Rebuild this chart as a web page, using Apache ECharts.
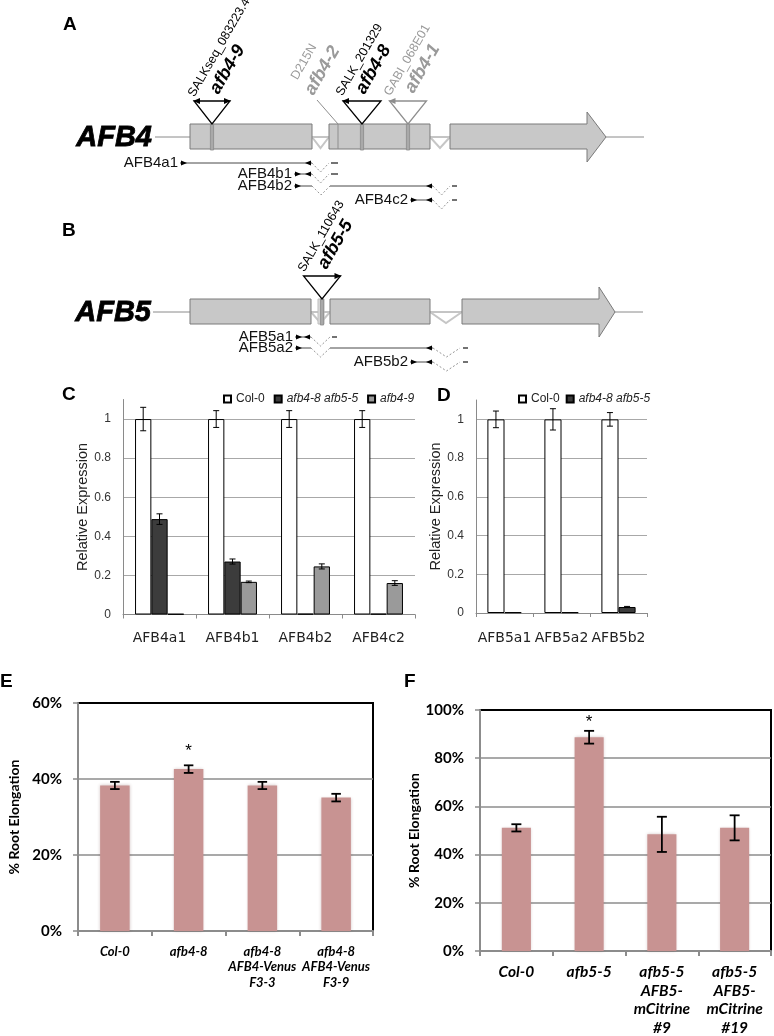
<!DOCTYPE html>
<html><head><meta charset="utf-8">
<script src="https://cdn.jsdelivr.net/npm/echarts@6/dist/echarts.min.js"></script>
<style>html,body{margin:0;padding:0;background:#fff;}#c{width:774px;height:1036px;}</style>
</head><body><div id="c"></div>
<script>
// ================= DATA =================
// Panel C: relative expression of AFB4 amplicons
const catC = ['AFB4a1', 'AFB4b1', 'AFB4b2', 'AFB4c2'];
const col0C = [1, 1, 1, 1];
const col0CErr = [0.06, 0.043, 0.043, 0.043];
const dblC = [0.488, 0.271, 0.004, 0.004];
const dblCErr = [0.027, 0.013, 0, 0];
const afb49C = [0.003, 0.167, 0.246, 0.161];
const afb49CErr = [0, 0.004, 0.013, 0.012];
// Panel D: relative expression of AFB5 amplicons
const catD = ['AFB5a1', 'AFB5a2', 'AFB5b2'];
const col0D = [1, 1, 1];
const col0DErr = [0.043, 0.055, 0.035];
const dblD = [0.004, 0.004, 0.031];
const dblDErr = [0, 0, 0.003];
// Panel E: % root elongation
const catE = ['Col-0', 'afb4-8', 'afb4-8\nAFB4-Venus\nF3-3', 'afb4-8\nAFB4-Venus\nF3-9'];
const valE = [38.3, 42.6, 38.3, 35.1];
const errE = [0.95, 1.0, 0.95, 1.0];
const sigE = [0, 1, 0, 0];
// Panel F: % root elongation
const catF = ['Col-0', 'afb5-5', 'afb5-5\nAFB5-\nmCitrine\n#9', 'afb5-5\nAFB5-\nmCitrine\n#19'];
const valF = [51.1, 88.7, 48.4, 51.1];
const errF = [1.5, 2.65, 7.3, 5.2];
const sigF = [0, 1, 0, 0];
// Tick settings
const yTicksCD = [0, 1.1, 0.2];   // min, max, step
const yTicksE = [0, 60, 20];
const yTicksF = [0, 100, 20];

// Gene schematics (schematic units along the gene)
const AFB4_LINE = [5, 494];
const AFB4_EXONS = [[40, 162], [179, 280]];
const AFB4_LAST = [300, 437, 456];
const AFB4_INTRONS = [[162, 179], [280, 300]];
const AFB4_SMALL = [];
const AFB4_INS = [
  {x: 62, hw: 18, arrow: 'both', gray: 0},
  {x: 212, hw: 19, arrow: 'left', gray: 0},
  {x: 258, hw: 18.5, arrow: 'left', gray: 1}
];
const AFB4_POINT = [{x: 188, from: [167, 5], gray: 1}];
const AFB4_LABELS = [
  {t: 'SALKseq_083223.4', x: 47, y: 4, bold: 0, gray: 0},
  {t: 'afb4-9', x: 72, y: 2, bold: 1, gray: 0},
  {t: 'D215N', x: 150, y: -13, bold: 0, gray: 1},
  {t: 'afb4-2', x: 167, y: 3, bold: 1, gray: 1},
  {t: 'SALK_201329', x: 195, y: 3, bold: 0, gray: 0},
  {t: 'afb4-8', x: 218, y: 2, bold: 1, gray: 0},
  {t: 'GABI_068E01', x: 243, y: 3, bold: 0, gray: 1},
  {t: 'afb4-1', x: 267, y: 1, bold: 1, gray: 1}
];
const AFB4_PRIMERS = [
  {label: 'AFB4a1', row: 68, end: 28, parts: [['line', 30, 162], ['fwd', 30], ['rev', 162], ['dashV', 162, 179], ['dash', 181, 188]]},
  {label: 'AFB4b1', row: 79, end: 142, parts: [['line', 144, 162], ['fwd', 144], ['rev', 162], ['dashV', 162, 179], ['dash', 181, 188]]},
  {label: 'AFB4b2', row: 91, end: 142, parts: [['line', 144, 162], ['fwd', 144], ['dashV', 162, 180], ['line', 180, 283], ['rev', 283], ['dashV', 283, 300], ['dash', 302, 307]]},
  {label: 'AFB4c2', row: 105, end: 258, parts: [['line', 260, 283], ['fwd', 260], ['rev', 283], ['dashV', 283, 300], ['dash', 302, 307]]}
];

const AFB5_LINE = [3, 493];
const AFB5_EXONS = [[40, 161], [180, 280]];
const AFB5_LAST = [312, 449, 465];
const AFB5_INTRONS = [[161, 180], [280, 312]];
const AFB5_SMALL = [[168, 174]];
const AFB5_INS = [{x: 172, hw: 18.5, arrow: 'right', gray: 0}];
const AFB5_POINT = [];
const AFB5_LABELS = [
  {t: 'SALK_110643', x: 157, y: 4, bold: 0, gray: 0},
  {t: 'afb5-5', x: 180, y: 2, bold: 1, gray: 0}
];
const AFB5_PRIMERS = [
  {label: 'AFB5a1', row: 67, end: 143, parts: [['line', 145, 161], ['fwd', 145], ['rev', 161], ['dashV', 161, 180], ['dash', 182, 187]]},
  {label: 'AFB5a2', row: 78, end: 143, parts: [['line', 145, 161], ['fwd', 145], ['dashV', 161, 180], ['line', 180, 283], ['rev', 283], ['dashV', 283, 310], ['dash', 313, 318]]},
  {label: 'AFB5b2', row: 92, end: 258, parts: [['line', 260, 283], ['fwd', 260], ['rev', 283], ['dashV', 283, 310], ['dash', 313, 318]]}
];

// ================= LAYOUT / STYLE =================
const ROW = {triTop: 6, boxTop: 29, mid: 42, boxBot: 54, vDepth: 11};
const FONT = '"Liberation Sans", Arial, sans-serif';

function geneRender(g) {
  return function (params, api) {
    const c = (x, y) => api.coord([x, y]);
    const ch = [];
    const L = (a, b, st) => ({type: 'line', shape: {x1: a[0], y1: a[1], x2: b[0], y2: b[1]}, style: st});
    ch.push(L(c(g.line[0], ROW.mid), c(g.line[1], ROW.mid), {stroke: '#8a8a8a', lineWidth: 1}));
    g.introns.forEach(([a, b]) => {
      ch.push({type: 'polyline', shape: {points: [c(a, ROW.mid), c((a + b) / 2, ROW.mid + ROW.vDepth), c(b, ROW.mid)]},
        style: {stroke: '#c6c6c6', lineWidth: 2, fill: null}});
    });
    g.exons.forEach(([a, b]) => {
      const p = c(a, ROW.boxTop), q = c(b, ROW.boxBot);
      ch.push({type: 'rect', shape: {x: p[0], y: p[1], width: q[0] - p[0], height: q[1] - p[1]},
        style: {fill: '#c8c8c8', stroke: '#7a7a7a', lineWidth: 1}});
    });
    g.small.forEach(([a, b]) => {
      const p = c(a, ROW.boxTop), q = c(b, ROW.boxBot);
      ch.push({type: 'rect', shape: {x: p[0], y: p[1], width: q[0] - p[0], height: q[1] - p[1]},
        style: {fill: '#dcdcdc', stroke: '#bdbdbd', lineWidth: 1}});
    });
    const [s, h, tip] = g.last;
    const half = 25;
    ch.push({type: 'polygon', shape: {points: [c(s, ROW.boxTop), c(h, ROW.boxTop), c(h, ROW.mid - half), c(tip, ROW.mid),
      c(h, ROW.mid + half), c(h, ROW.boxBot), c(s, ROW.boxBot)]}, style: {fill: '#c8c8c8', stroke: '#7a7a7a', lineWidth: 1}});
    g.point.forEach(pm => {
      const col = pm.gray ? '#8e8e8e' : '#000';
      ch.push({type: 'polyline', shape: {points: [c(pm.from[0], pm.from[1]), c(pm.x, ROW.boxTop), c(pm.x, ROW.boxBot)]},
        style: {stroke: col, lineWidth: 1, fill: null}});
    });
    g.ins.forEach(ins => {
      const col = ins.gray ? '#8e8e8e' : '#000';
      const p = c(ins.x - 1.6, ROW.boxTop), q = c(ins.x + 1.6, ROW.boxBot + 1);
      ch.push({type: 'rect', shape: {x: p[0], y: p[1], width: q[0] - p[0], height: q[1] - p[1]},
        style: {fill: '#a9a9a9', stroke: '#8a8a8a', lineWidth: 0.8}});
      const A = c(ins.x - ins.hw, ROW.triTop), B = c(ins.x + ins.hw, ROW.triTop), C = c(ins.x, ROW.boxTop);
      ch.push({type: 'polygon', shape: {points: [A, B, C]}, style: {fill: '#fff', stroke: col, lineWidth: 1.3}});
      if (ins.arrow === 'left' || ins.arrow === 'both')
        ch.push({type: 'polygon', shape: {points: [[A[0] - 1, A[1]], [A[0] + 6, A[1] - 3], [A[0] + 6, A[1] + 3]]}, style: {fill: col}});
      if (ins.arrow === 'right' || ins.arrow === 'both')
        ch.push({type: 'polygon', shape: {points: [[B[0] + 1, B[1]], [B[0] - 6, B[1] - 3], [B[0] - 6, B[1] + 3]]}, style: {fill: col}});
    });
    g.labels.forEach(lb => {
      const p = c(lb.x, lb.y);
      ch.push({type: 'text', x: p[0], y: p[1], rotation: Math.PI / 3,
        style: {text: lb.t, fill: lb.gray ? '#9a9a9a' : '#000',
          font: lb.bold ? 'italic bold 18px ' + FONT : '12.5px ' + FONT, align: 'left', verticalAlign: 'bottom'}});
    });
    const gp = c(g.nameX, ROW.mid);
    ch.push({type: 'text', x: gp[0], y: gp[1] + 1, style: {text: g.name, fill: '#000', font: 'italic bold 29px ' + FONT,
      align: 'right', verticalAlign: 'middle', stroke: '#000', lineWidth: 0.8}});
    g.primers.forEach(pr => {
      const y = pr.row;
      const lp = c(pr.end, y);
      ch.push({type: 'text', x: lp[0], y: lp[1], style: {text: pr.label, fill: '#111', font: '15px ' + FONT, align: 'right', verticalAlign: 'middle'}});
      pr.parts.forEach(pt => {
        const k = pt[0];
        if (k === 'line') ch.push(L(c(pt[1], y), c(pt[2], y), {stroke: '#333', lineWidth: 0.9}));
        else if (k === 'fwd') { const a = c(pt[1], y); ch.push({type: 'polygon', shape: {points: [[a[0] + 7, a[1]], [a[0] + 1, a[1] - 2.6], [a[0] + 1, a[1] + 2.6]]}, style: {fill: '#000'}}); }
        else if (k === 'rev') { const a = c(pt[1], y); ch.push({type: 'polygon', shape: {points: [[a[0] - 7, a[1]], [a[0] - 1, a[1] - 2.6], [a[0] - 1, a[1] + 2.6]]}, style: {fill: '#000'}}); }
        else if (k === 'dashV') ch.push({type: 'polyline', shape: {points: [c(pt[1], y), c((pt[1] + pt[2]) / 2, y + 9), c(pt[2], y)]},
          style: {stroke: '#8a8a8a', lineWidth: 0.9, lineDash: [2, 2], fill: null}});
        else if (k === 'dash') ch.push(L(c(pt[1], y), c(pt[2], y), {stroke: '#000', lineWidth: 1.1}));
      });
    });
    return {type: 'group', children: ch};
  };
}

const GENE4 = {name: 'AFB4', nameX: 2, line: AFB4_LINE, exons: AFB4_EXONS, last: AFB4_LAST, introns: AFB4_INTRONS, small: AFB4_SMALL,
  ins: AFB4_INS, point: AFB4_POINT, labels: AFB4_LABELS, primers: AFB4_PRIMERS};
const GENE5 = {name: 'AFB5', nameX: 1, line: AFB5_LINE, exons: AFB5_EXONS, last: AFB5_LAST, introns: AFB5_INTRONS, small: AFB5_SMALL,
  ins: AFB5_INS, point: AFB5_POINT, labels: AFB5_LABELS, primers: AFB5_PRIMERS};

function errRender(n, k, gap, capW, lw, starOff) {
  return function (params, api) {
    const x = api.value(0), v = api.value(1), e = api.value(2), sig = api.value(3);
    const band = api.size([1, 0])[0];
    const bw = band * (1 - gap) / n;
    const off = (k - (n - 1) / 2) * bw;
    const top = api.coord([x, v + e]), bot = api.coord([x, v - e]);
    const cx = top[0] + off;
    const st = {stroke: '#000', lineWidth: lw};
    const ch = [];
    if (e > 0) {
      ch.push({type: 'line', shape: {x1: cx, y1: top[1], x2: cx, y2: bot[1]}, style: st});
      ch.push({type: 'line', shape: {x1: cx - capW / 2, y1: top[1], x2: cx + capW / 2, y2: top[1]}, style: st});
      ch.push({type: 'line', shape: {x1: cx - capW / 2, y1: bot[1], x2: cx + capW / 2, y2: bot[1]}, style: st});
    }
    if (sig) ch.push({type: 'text', x: cx, y: top[1] - starOff, style: {text: '*', fill: '#000', font: '17px ' + FONT, align: 'center', verticalAlign: 'middle'}});
    return {type: 'group', children: ch};
  };
}
const errData = (vals, errs, sig) => vals.map((v, i) => [i, v, errs[i], sig ? sig[i] : 0]);

const axisGray = '#8a8a8a';
function relAxisX(gi, data, margin) {
  return {type: 'category', gridIndex: gi, data: data, axisLine: {lineStyle: {color: axisGray, width: 1}},
    axisTick: {show: true, length: 4, lineStyle: {color: axisGray}},
    axisLabel: {fontFamily: 'DejaVu Sans', fontSize: 14, color: '#222', margin: margin, interval: 0}};
}
function relAxisY(gi, gap) {
  return {type: 'value', gridIndex: gi, min: yTicksCD[0], max: yTicksCD[1], interval: yTicksCD[2],
    axisLine: {show: true, lineStyle: {color: axisGray}}, axisTick: {show: false},
    axisLabel: {fontFamily: FONT, fontSize: 12, color: '#333', margin: 12, showMaxLabel: false},
    splitLine: {show: true, showMaxLine: false, lineStyle: {color: '#a8a8a8', width: 1}},
    name: 'Relative Expression', nameLocation: 'middle', nameGap: gap, nameRotate: 90,
    nameTextStyle: {fontFamily: FONT, fontSize: 14.5, color: '#222'}};
}
function rootAxisX(gi, data, fs, lh, margin) {
  return {type: 'category', gridIndex: gi, data: data, axisLine: {lineStyle: {color: '#8c8c8c', width: 2}},
    axisTick: {show: true, length: 5, lineStyle: {color: '#8c8c8c', width: 2}},
    axisLabel: {fontFamily: 'Lato', fontWeight: 'bold', fontStyle: 'italic', fontSize: fs, lineHeight: lh, color: '#000', margin: margin, interval: 0}};
}
function rootAxisY(gi, t, gap) {
  return {type: 'value', gridIndex: gi, min: t[0], max: t[1], interval: t[2],
    axisLine: {show: true, lineStyle: {color: '#8c8c8c', width: 2}},
    axisTick: {show: true, length: 5, lineStyle: {color: '#8c8c8c', width: 1.5}},
    axisLabel: {formatter: '{value}%', fontFamily: 'Lato', fontWeight: 'bold', fontSize: 15, color: '#000', margin: 16},
    splitLine: {show: true, showMaxLine: false, showMinLine: false, lineStyle: {color: '#8c8c8c', width: 1.5}},
    name: '% Root Elongation', nameLocation: 'middle', nameGap: gap, nameRotate: 90,
    nameTextStyle: {fontFamily: 'Lato', fontWeight: 'bold', fontSize: 14, color: '#000'}};
}

const barStyle = (fill) => ({color: fill, borderColor: '#000', borderWidth: 1});
const pink = '#c89392';
const pinkStyle = {color: pink, shadowBlur: 3, shadowColor: 'rgba(90,40,40,0.25)'};

const option = {
  animation: false,
  backgroundColor: '#fff',
  grid: [
    {left: 150, top: 95, width: 500, height: 120, outerBoundsMode: 'none'},
    {left: 150, top: 270, width: 500, height: 120, outerBoundsMode: 'none'},
    {left: 123, top: 399.5, width: 292, height: 215, outerBoundsMode: 'none'},
    {left: 476, top: 400, width: 171, height: 213, outerBoundsMode: 'none'},
    {left: 78, top: 703, width: 295, height: 228, show: true, borderColor: '#000', borderWidth: 2, outerBoundsMode: 'none'},
    {left: 480, top: 710, width: 291, height: 241, show: true, borderColor: '#000', borderWidth: 2, outerBoundsMode: 'none'}
  ],
  xAxis: [
    {type: 'value', gridIndex: 0, min: 0, max: 500, show: false},
    {type: 'value', gridIndex: 1, min: 0, max: 500, show: false},
    relAxisX(2, catC, 17),
    relAxisX(3, catD, 18),
    rootAxisX(4, catE, 13, 15.5, 13),
    rootAxisX(5, catF, 15.5, 18.5, 12)
  ],
  yAxis: [
    {type: 'value', gridIndex: 0, min: 0, max: 120, inverse: true, show: false},
    {type: 'value', gridIndex: 1, min: 0, max: 120, inverse: true, show: false},
    relAxisY(2, 29),
    relAxisY(3, 30),
    rootAxisY(4, yTicksE, 57),
    rootAxisY(5, yTicksF, 58)
  ],
  legend: [
    {left: 223, top: 393, padding: 0, itemWidth: 7, itemHeight: 7, itemGap: 9, icon: 'rect', selectedMode: false,
      textStyle: {fontFamily: FONT, fontSize: 12, color: '#222'},
      data: [{name: 'Col-0'}, {name: 'afb4-8 afb5-5', textStyle: {fontStyle: 'italic'}}, {name: 'afb4-9', textStyle: {fontStyle: 'italic'}}]},
    {left: 518, top: 393, padding: 0, itemWidth: 7, itemHeight: 7, itemGap: 6, icon: 'rect', selectedMode: false,
      textStyle: {fontFamily: FONT, fontSize: 12, color: '#222'},
      data: [{name: 'Col-0'}, {name: 'afb4-8 afb5-5', textStyle: {fontStyle: 'italic'}}]}
  ],
  graphic: [
    {type: 'text', x: 63, y: 25, style: {text: 'A', font: 'bold 19px ' + FONT, fill: '#000', verticalAlign: 'middle'}},
    {type: 'text', x: 62, y: 231, style: {text: 'B', font: 'bold 19px ' + FONT, fill: '#000', verticalAlign: 'middle'}},
    {type: 'text', x: 62, y: 395, style: {text: 'C', font: 'bold 19px ' + FONT, fill: '#000', verticalAlign: 'middle'}},
    {type: 'text', x: 437, y: 396, style: {text: 'D', font: 'bold 19px ' + FONT, fill: '#000', verticalAlign: 'middle'}},
    {type: 'text', x: 0, y: 682, style: {text: 'E', font: 'bold 19px ' + FONT, fill: '#000', verticalAlign: 'middle'}},
    {type: 'text', x: 404, y: 682, style: {text: 'F', font: 'bold 19px ' + FONT, fill: '#000', verticalAlign: 'middle'}}
  ],
  series: [
    {type: 'custom', name: 'geneA', xAxisIndex: 0, yAxisIndex: 0, clip: false, silent: true, data: [[0, 0]], renderItem: geneRender(GENE4)},
    {type: 'custom', name: 'geneB', xAxisIndex: 1, yAxisIndex: 1, clip: false, silent: true, data: [[0, 0]], renderItem: geneRender(GENE5)},
    {type: 'bar', name: 'Col-0', xAxisIndex: 2, yAxisIndex: 2, data: col0C, barGap: '0%', barCategoryGap: '33%', itemStyle: barStyle('#ffffff')},
    {type: 'bar', name: 'afb4-8 afb5-5', xAxisIndex: 2, yAxisIndex: 2, data: dblC, barGap: '0%', barCategoryGap: '33%', itemStyle: barStyle('#3c3c3c')},
    {type: 'bar', name: 'afb4-9', xAxisIndex: 2, yAxisIndex: 2, data: afb49C, barGap: '0%', barCategoryGap: '33%', itemStyle: barStyle('#9a9a9a')},
    {type: 'custom', name: 'errC0', xAxisIndex: 2, yAxisIndex: 2, z: 5, encode: {x: 0, y: 1}, data: errData(col0C, col0CErr), renderItem: errRender(3, 0, 0.33, 6, 1, 0)},
    {type: 'custom', name: 'errC1', xAxisIndex: 2, yAxisIndex: 2, z: 5, encode: {x: 0, y: 1}, data: errData(dblC, dblCErr), renderItem: errRender(3, 1, 0.33, 6, 1, 0)},
    {type: 'custom', name: 'errC2', xAxisIndex: 2, yAxisIndex: 2, z: 5, encode: {x: 0, y: 1}, data: errData(afb49C, afb49CErr), renderItem: errRender(3, 2, 0.33, 6, 1, 0)},
    {type: 'bar', name: 'Col-0', xAxisIndex: 3, yAxisIndex: 3, data: col0D, barGap: '0%', barCategoryGap: '40%', itemStyle: barStyle('#ffffff')},
    {type: 'bar', name: 'afb4-8 afb5-5', xAxisIndex: 3, yAxisIndex: 3, data: dblD, barGap: '0%', barCategoryGap: '40%', itemStyle: barStyle('#3c3c3c')},
    {type: 'custom', name: 'errD0', xAxisIndex: 3, yAxisIndex: 3, z: 5, encode: {x: 0, y: 1}, data: errData(col0D, col0DErr), renderItem: errRender(2, 0, 0.40, 6, 1, 0)},
    {type: 'custom', name: 'errD1', xAxisIndex: 3, yAxisIndex: 3, z: 5, encode: {x: 0, y: 1}, data: errData(dblD, dblDErr), renderItem: errRender(2, 1, 0.40, 6, 1, 0)},
    {type: 'bar', name: 'rootE', xAxisIndex: 4, yAxisIndex: 4, data: valE, barCategoryGap: '60%', itemStyle: pinkStyle},
    {type: 'custom', name: 'errE', xAxisIndex: 4, yAxisIndex: 4, z: 5, encode: {x: 0, y: 1}, data: errData(valE, errE, sigE), renderItem: errRender(1, 0, 0.6, 9.5, 1.8, 14)},
    {type: 'bar', name: 'rootF', xAxisIndex: 5, yAxisIndex: 5, data: valF, barCategoryGap: '60%', itemStyle: pinkStyle},
    {type: 'custom', name: 'errF', xAxisIndex: 5, yAxisIndex: 5, z: 5, encode: {x: 0, y: 1}, data: errData(valF, errF, sigF), renderItem: errRender(1, 0, 0.6, 10, 1.8, 9)}
  ]
};
const chart = echarts.init(document.getElementById('c'), null, {renderer: 'canvas', width: 774, height: 1036});
chart.setOption(option);
</script></body></html>
